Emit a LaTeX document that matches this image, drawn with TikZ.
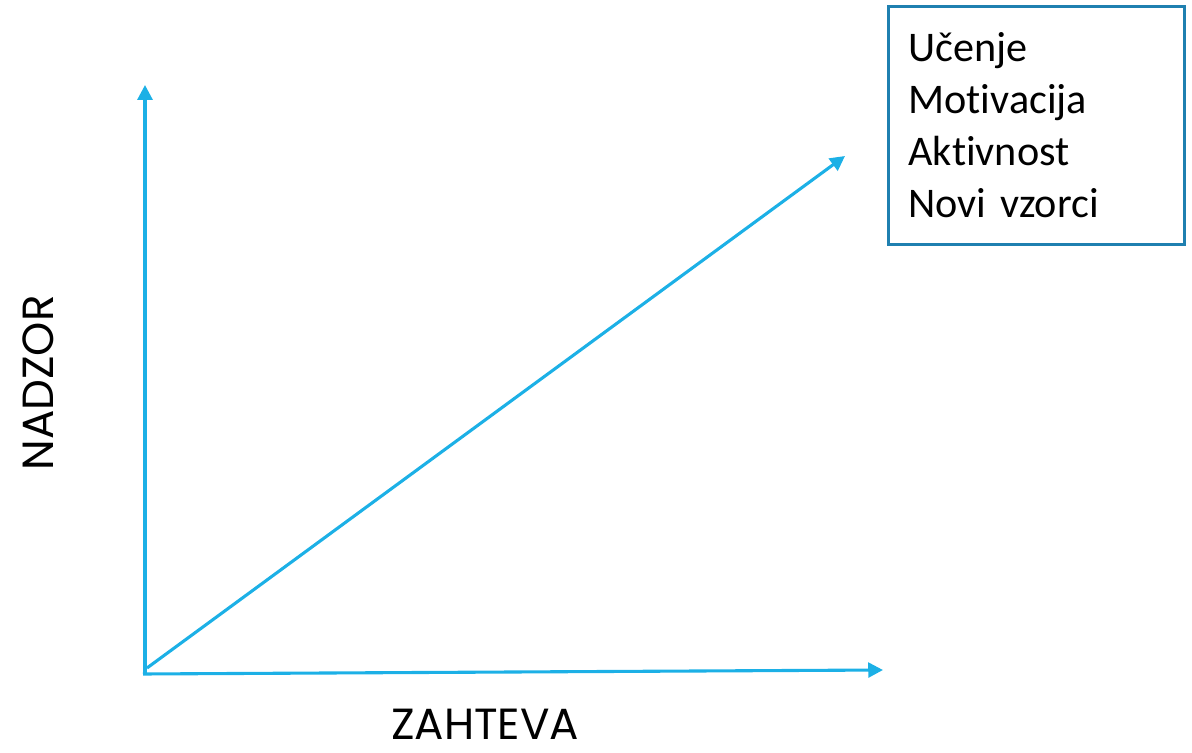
\documentclass[tikz,border=0pt]{standalone}
\usepackage{fontspec}
\setmainfont{Carlito}[Ligatures=NoCommon]
\newfontfamily\axisfont{Poppins}
\usetikzlibrary{arrows.meta}
\definecolor{axisblue}{HTML}{1CB0E6}
\definecolor{boxblue}{HTML}{1F80B0}
\tikzset{
  axis/.style={draw=axisblue, line width=2.2pt, -{Triangle[length=10.5pt,width=10.5pt]}},
  axislabel/.style={font=\axisfont\fontsize{31}{36}\selectfont, anchor=base, inner sep=0pt},
  listbox/.style={draw=boxblue, line width=2.2pt, align=left, anchor=north west,
    text width=6.4cm, inner xsep=0.5cm, minimum height=5.95cm,
    font=\fontsize{30}{37}\selectfont}
}
\begin{document}
\begin{tikzpicture}[x=0.025cm, y=-0.025cm]
  \useasboundingbox (0,0) rectangle (1192,753);
  \coordinate (Ov) at (145,674);
  \coordinate (Oh) at (143,674);
  \coordinate (Od) at (147,668);
  \coordinate (Y) at (145,85);
  \coordinate (X) at (883,670);
  \coordinate (D) at (845,156);
  \draw[axis] (Ov) -- (Y);
  \draw[axis] (Oh) -- (X);
  \draw[axis] (Od) -- (D);
  \node[listbox] (list) at (887,5) {Učenje\\Motivacija\\Aktivnost\\Novi vzorci};
  \node[axislabel, rotate=90] (nadzor) at (54,383) {NADZOR};
  \node[axislabel] (zahteva) at (485,740) {ZAHTEVA};
\end{tikzpicture}
\end{document}
